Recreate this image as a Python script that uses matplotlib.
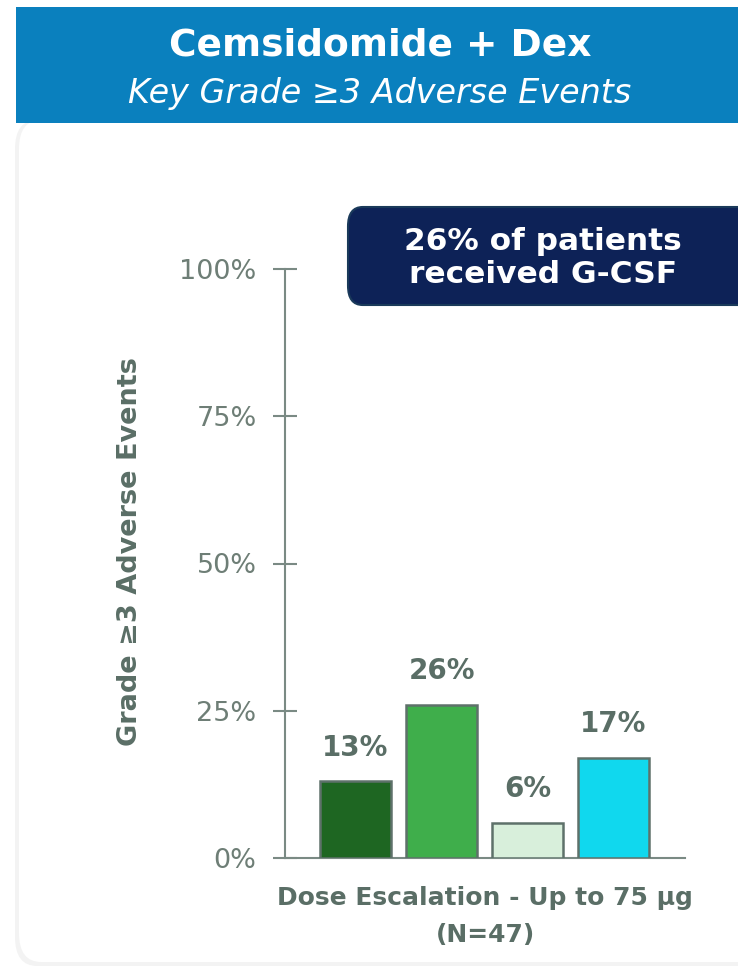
import matplotlib
matplotlib.use("Agg")
import matplotlib.pyplot as plt
from matplotlib.patches import FancyBboxPatch, Rectangle

categories = ["A", "B", "C", "D"]
values = [13, 26, 6, 17]
bar_labels = ["13%", "26%", "6%", "17%"]
bar_colors = ["#1E6622", "#3FAE4B", "#D8EFDB", "#10D8EE"]
yticks = [0, 25, 50, 75, 100]
ytick_labels = ["0%", "25%", "50%", "75%", "100%"]
title = "Cemsidomide + Dex"
subtitle = "Key Grade \u22653 Adverse Events"
ylabel = "Grade \u22653 Adverse Events"
xlabel_line1 = "Dose Escalation - Up to 75 \u00b5g"
xlabel_line2 = "(N=47)"
callout = "26% of patients\nreceived G-CSF"

W, H = 738, 967
fig = plt.figure(figsize=(W / 100, H / 100), dpi=100)
fig.patch.set_facecolor("white")

def fx(px):
    return px / W

def fy(py):
    return 1 - py / H

# card shadow and card
shadow = FancyBboxPatch((fx(15), fy(966)), fx(760), fy(120) - fy(966),
                        boxstyle="round,pad=0,rounding_size=0.03",
                        transform=fig.transFigure, facecolor="#F3F3F3",
                        edgecolor="none", zorder=0)
fig.patches.append(shadow)
card = FancyBboxPatch((fx(19), fy(962)), fx(760), fy(120) - fy(962),
                      boxstyle="round,pad=0,rounding_size=0.03",
                      transform=fig.transFigure, facecolor="white",
                      edgecolor="none", zorder=0.5)
fig.patches.append(card)

# header banner
banner = Rectangle((fx(16), fy(123)), fx(722), fy(7) - fy(123),
                   transform=fig.transFigure, facecolor="#0A80BE",
                   edgecolor="none", zorder=1)
fig.patches.append(banner)
fig.text(fx(380), fy(45), title, color="white", fontsize=27, fontweight="bold",
         ha="center", va="center", family="DejaVu Sans")
fig.text(fx(380), fy(93), subtitle, color="white", fontsize=24, style="italic",
         ha="center", va="center", family="DejaVu Sans")

# axes
left, right, top, bottom = 285, 685, 269, 858
ax = fig.add_axes([fx(left), fy(bottom), fx(right - left), fy(top) - fy(bottom)])
ax.set_zorder(3)
ax.set_facecolor("none")
x = range(len(values))
ax.bar(x, values, width=0.83, color=bar_colors, edgecolor="#5E716A",
       linewidth=1.8, zorder=3)
for xi, v, lab in zip(x, values, bar_labels):
    ax.text(xi, v + 3.3, lab, ha="center", va="bottom", fontsize=20,
            fontweight="bold", color="#5A6E66")
ax.set_xlim(-0.82, (right - 355.5) / 86)
ax.set_ylim(0, 100)
ax.set_yticks(yticks)
ax.set_yticklabels(ytick_labels, fontsize=19.5, color="#6E7E76")
ax.set_xticks([])
for s in ["top", "right"]:
    ax.spines[s].set_visible(False)
for s in ["left", "bottom"]:
    ax.spines[s].set_color("#7A8A84")
    ax.spines[s].set_linewidth(1.5)
ax.tick_params(axis="y", direction="inout", length=17, width=1.5,
               color="#7A8A84", pad=12)

fig.text(fx(485), fy(898), xlabel_line1, fontsize=18,
         fontweight="bold", color="#5A6E66", ha="center", va="center")
fig.text(fx(485), fy(935), xlabel_line2, fontsize=18,
         fontweight="bold", color="#5A6E66", ha="center", va="center")
fig.text(fx(130), fy(552), ylabel, rotation=90, fontsize=19.5, fontweight="bold",
         color="#5A6E66", ha="center", va="center")

# callout box
box = FancyBboxPatch((fx(348), fy(305)), fx(420), fy(207) - fy(305),
                     boxstyle="round,pad=0,rounding_size=0.02",
                     transform=fig.transFigure, facecolor="#0D2257",
                     edgecolor="#1A3A5A", linewidth=1.5, zorder=5)
fig.patches.append(box)
fig.text(fx(543), fy(258), callout, color="white", fontsize=22.5,
         fontweight="bold", ha="center", va="center", linespacing=1.2, zorder=6)

fig.savefig("out.png", dpi=100)
